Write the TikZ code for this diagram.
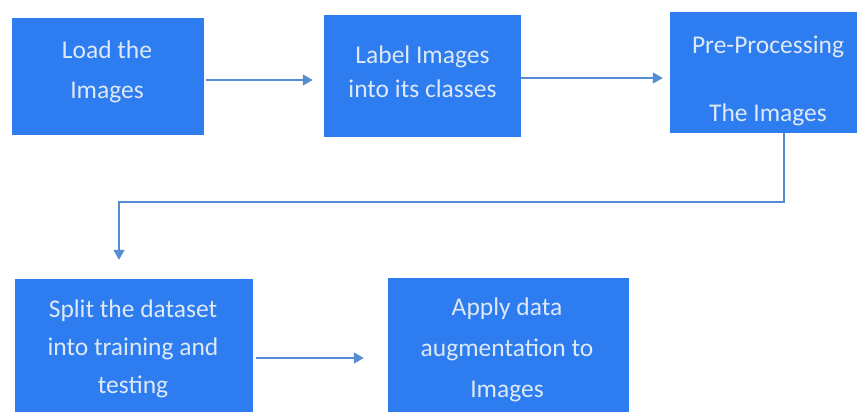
\documentclass[tikz,border=0pt]{standalone}
\usepackage{fontspec}
\setmainfont{Carlito}
\usetikzlibrary{arrows.meta}
\definecolor{boxblue}{RGB}{45,125,240}
\definecolor{txtcol}{RGB}{222,232,247}
\definecolor{linecol}{RGB}{84,141,212}
\tikzset{
  box/.style={rectangle, fill=boxblue, draw=none, inner sep=0pt},
  txt/.style={align=center, text=txtcol, inner sep=0pt},
  arr/.style={draw=linecol, line width=1.6pt, -{Triangle[length=10pt,width=11pt]}}
}
\begin{document}
\begin{tikzpicture}[x=1pt,y=-1pt]
\useasboundingbox (0,0) rectangle (857,412);
\fill[white] (0,0) rectangle (857,412);
% boxes
\node[box, minimum width=192pt, minimum height=117pt] (b1) at (108,76.5) {};
\node[box, minimum width=197pt, minimum height=122pt] (b2) at (422.5,76) {};
\node[box, minimum width=196pt, minimum height=121pt] (b3) at (768,72.5) {};
\node[box, minimum width=238pt, minimum height=141pt] (b4) at (134,349.5) {};
\node[box, minimum width=241pt, minimum height=142pt] (b5) at (508.5,349) {};
% texts
\node[txt, font=\fontsize{25.5pt}{40pt}\selectfont] (t1) at (107,71.75) {Load the\\Images};
\node[txt, font=\fontsize{25.5pt}{34pt}\selectfont] (t2) at (422.5,72) {Label Images\\into its classes};
\node[txt, font=\fontsize{25.5pt}{68pt}\selectfont] (t3) at (768,81) {Pre-Processing\\The Images};
\node[txt, font=\fontsize{25.5pt}{38pt}\selectfont] (t4) at (133,348.75) {Split the dataset\\into training and\\testing};
\node[txt, font=\fontsize{25.5pt}{41pt}\selectfont] (t5) at (507,349.75) {Apply data\\augmentation to\\Images};
% connectors
\draw[arr, shorten <=2pt, shorten >=11pt] ([yshift=-3.5pt]b1.east) -- ([yshift=-4pt]b2.west);
\draw[arr, shorten >=7pt] ([yshift=-2pt]b2.east) -- ([yshift=-5.5pt]b3.west);
\draw[arr, shorten >=19pt] ([xshift=16pt]b3.south) -- ++(0,69) -| ([xshift=-15pt]b4.north);
\draw[arr, shorten <=3pt, shorten >=24pt] ([yshift=-8.5pt]b4.east) -- ([yshift=-9pt]b5.west);
\end{tikzpicture}
\end{document}
